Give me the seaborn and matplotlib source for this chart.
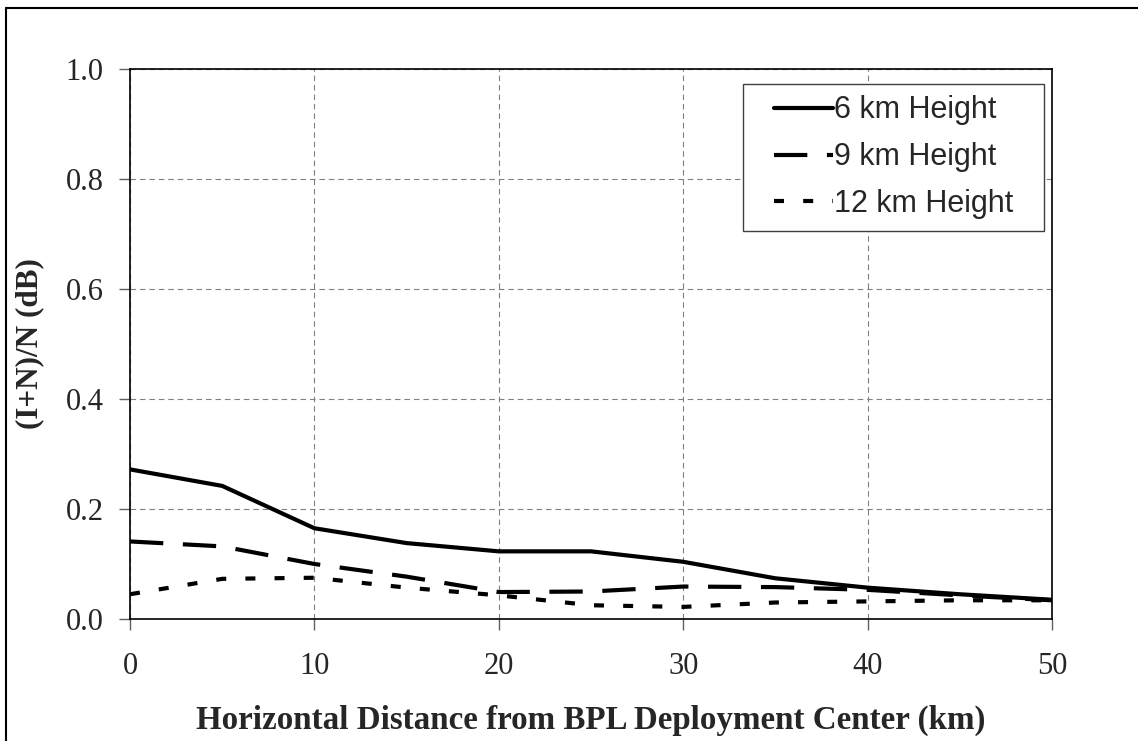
import pandas as pd
import matplotlib.pyplot as plt
import seaborn as sns
from matplotlib.lines import Line2D
from matplotlib.patches import Rectangle

# values
distance = [0, 5, 10, 15, 20, 25, 30, 35, 40, 45, 50]
height_6km = [0.272, 0.242, 0.165, 0.138, 0.123, 0.123, 0.104, 0.074, 0.057, 0.045, 0.035]
height_9km = [0.141, 0.132, 0.100, 0.077, 0.049, 0.050, 0.059, 0.058, 0.053, 0.043, 0.034]
height_12km = [0.045, 0.073, 0.075, 0.057, 0.043, 0.025, 0.022, 0.030, 0.032, 0.034, 0.034]
series_names = ['6 km Height', '9 km Height', '12 km Height']

def main():
    df = pd.concat([
        pd.DataFrame({'dist': distance, 'val': height_6km, 'serie': series_names[0]}),
        pd.DataFrame({'dist': distance, 'val': height_9km, 'serie': series_names[1]}),
        pd.DataFrame({'dist': distance, 'val': height_12km, 'serie': series_names[2]}),
    ])

    sns.set_style('white')
    plt.rcParams['font.family'] = ['Liberation Serif', 'DejaVu Serif']

    fig = plt.figure(figsize=(11.38, 7.41), dpi=100)
    ax = fig.add_axes([130/1138, 1 - 619/741, 922/1138, 550/741])

    dash_9 = (8, 4.7)
    dash_12 = (2.4, 4.6)
    sns.lineplot(data=df, x='dist', y='val', hue='serie', style='serie',
                 palette=['black'] * 3,
                 dashes={series_names[0]: '', series_names[1]: dash_9, series_names[2]: dash_12},
                 linewidth=3, ax=ax, legend=False)

    ax.set_xlim(0, 50)
    ax.set_ylim(0, 1.0)
    ax.set_xticks(range(0, 51, 10))
    yt = [0, 0.2, 0.4, 0.6, 0.8, 1.0]
    ax.set_yticks(yt)
    ax.set_yticklabels(['%.1f' % v for v in yt])
    ax.grid(True, color='#808080', linestyle=(0, (5, 3.5)), linewidth=0.8)
    for s in ax.spines.values():
        s.set_color('black')
        s.set_linewidth(1.2)
        s.set_visible(True)
    ax.tick_params(axis='both', direction='out', length=8, width=1, color='#606060',
                   labelsize=22, left=True, bottom=True)
    ax.tick_params(axis='x', pad=16)
    ax.tick_params(axis='y', pad=11)

    ax.set_xlabel('Horizontal Distance from BPL Deployment Center (km)', fontsize=23.8, fontweight='bold', labelpad=17)
    ax.set_ylabel('(I+N)/N (dB)', fontsize=22.5, fontweight='bold')
    ax.yaxis.set_label_coords(-0.0935, 0.5)

    handles = [Line2D([], [], color='black', lw=3),
               Line2D([], [], color='black', lw=3, dashes=dash_9),
               Line2D([], [], color='black', lw=3, dashes=dash_12)]
    leg = ax.legend(handles, series_names, loc='upper right', bbox_to_anchor=(0.9707, 0.973),
                    borderaxespad=0, fancybox=False, frameon=True, handlelength=1.93,
                    handletextpad=0.05, borderpad=0.38, labelspacing=0.55,
                    prop={'family': 'Liberation Sans', 'size': 22})
    leg.get_frame().set_edgecolor('none')
    leg.get_frame().set_facecolor('none')

    # legend frame with wider side margins than the legend's own padding
    fig.canvas.draw()
    bb = leg.get_window_extent().transformed(ax.transAxes.inverted())
    side = 19 / 922
    ax.add_patch(Rectangle((bb.x0 - side, bb.y0), bb.width + 2 * side, bb.height,
                           transform=ax.transAxes, facecolor='white', edgecolor='#404040',
                           linewidth=1, zorder=4.5, clip_on=False))

    # outer frame of the picture
    fig.add_artist(Line2D([6/1138, 6/1138], [0, 1 - 8/741], transform=fig.transFigure, color='black', lw=1.5))
    fig.add_artist(Line2D([6/1138, 1], [1 - 8/741, 1 - 8/741], transform=fig.transFigure, color='black', lw=1.5))

    fig.savefig('out.png', dpi=100, facecolor='white')

if __name__ == '__main__':
    main()
